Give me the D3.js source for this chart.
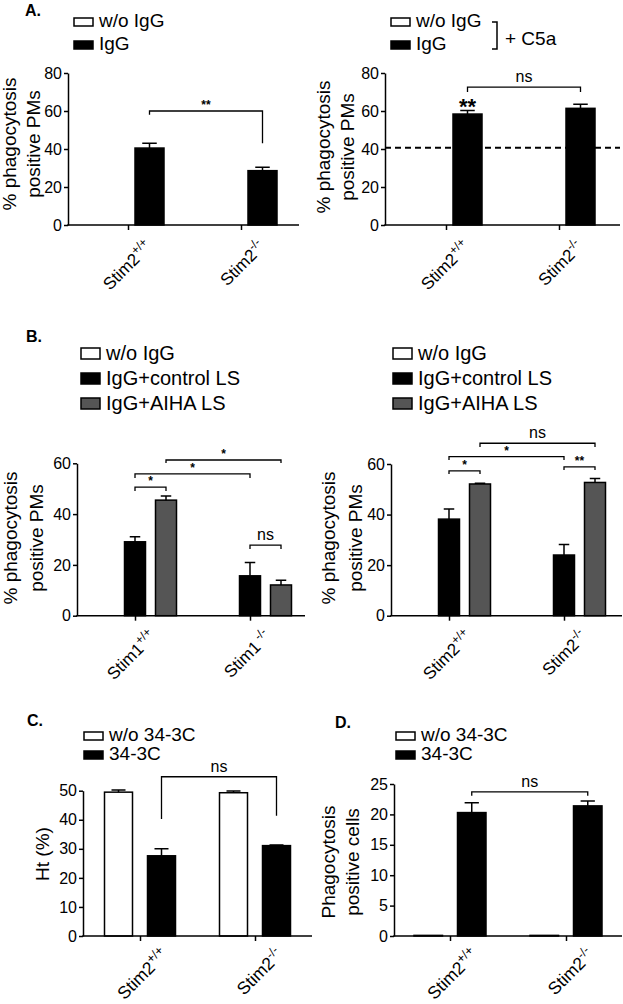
<!DOCTYPE html>
<html>
<head>
<meta charset="utf-8">
<script src="https://cdn.jsdelivr.net/npm/d3@7"></script>
<style>
  body { margin: 0; background: #fff; }
  svg { display: block; }
  text { font-family: "Liberation Sans", Arial, sans-serif; fill: #000; }
</style>
</head>
<body>
<svg id="fig" width="623" height="1004"></svg>
<script>
// categories (genotype + superscript)
const stim2Cats = ['Stim2+/+', 'Stim2-/-'];
const stim1Cats = ['Stim1+/+', 'Stim1 -/-'];

// A. phagocytosis, without / with C5a
const aSeries = ['w/o IgG', 'IgG'];
const aLeftWoIgG = [0, 0];
const aLeftIgG = [40.5, 28.6];
const aLeftIgGErr = [2.5, 1.8];
const aRightWoIgG = [0, 0];
const aRightIgG = [58.4, 61.4];
const aRightIgGErr = [1.8, 2.1];
const aRightReference = 40.6;
const aTicks = [0, 20, 40, 60, 80];

// B. liposome treatment
const bSeries = ['w/o IgG', 'IgG+control LS', 'IgG+AIHA LS'];
const bLeftWoIgG = [0, 0];
const bLeftControl = [29.1, 15.7];
const bLeftControlErr = [2.0, 5.2];
const bLeftAiha = [45.5, 12.1];
const bLeftAihaErr = [1.6, 1.9];
const bRightWoIgG = [0, 0];
const bRightControl = [38.2, 24.0];
const bRightControlErr = [4.0, 4.2];
const bRightAiha = [52.1, 52.7];
const bRightAihaErr = [0.3, 1.6];
const bTicks = [0, 20, 40, 60];

// C. hematocrit / D. phagocytosis with 34-3C
const cdSeries = ['w/o 34-3C', '34-3C'];
const cWo = [49.5, 49.3];
const cWoErr = [0.7, 0.6];
const cTreated = [27.6, 31.1];
const cTreatedErr = [2.4, 0.2];
const cTicks = [0, 10, 20, 30, 40, 50];
const dWo = [0.1, 0.1];
const dWoErr = [0, 0];
const dTreated = [20.3, 21.4];
const dTreatedErr = [1.6, 0.8];
const dTicks = [0, 5, 10, 15, 20, 25];

const fills = {
  'w/o IgG': '#fff', 'IgG': '#000',
  'IgG+control LS': '#000', 'IgG+AIHA LS': '#555',
  'w/o 34-3C': '#fff', '34-3C': '#000'
};

const svg = d3.select('#fig');

function drawPanel(p) {
  const g = svg.append('g');
  const y = d3.scaleLinear().domain([0, p.yMax]).range([p.y0, p.yTop]);
  const x = d3.scalePoint().domain(p.cats).range(p.centers);
  const names = p.series.map(s => s.name);
  const n = names.length;
  const pad = 1 - p.bw / p.step;
  const xs = d3.scaleBand().domain(names)
    .range([-n * p.step / 2, n * p.step / 2])
    .paddingInner(pad).paddingOuter(pad / 2);
  const cx = (ci, s) => x(p.cats[ci]) + xs(s) + xs.bandwidth() / 2;

  // reference line
  if (p.reference != null) {
    g.append('line')
      .attr('x1', p.x0).attr('x2', p.x1)
      .attr('y1', y(p.reference)).attr('y2', y(p.reference))
      .attr('stroke', '#000').attr('stroke-width', 2)
      .attr('stroke-dasharray', '6,4');
  }

  // bars + upper error bars
  p.series.forEach(s => {
    const sg = g.append('g');
    sg.selectAll('rect').data(s.values).join('rect')
      .attr('x', (d, i) => x(p.cats[i]) + xs(s.name))
      .attr('width', xs.bandwidth())
      .attr('y', d => y(d))
      .attr('height', d => y(0) - y(d))
      .attr('fill', fills[s.name])
      .attr('stroke', '#000').attr('stroke-width', 1.5);
    const errs = s.errs || s.values.map(() => 0);
    sg.selectAll('path.err').data(s.values).join('path')
      .attr('class', 'err')
      .attr('d', (d, i) => {
        if (!errs[i] || d === 0) return null;
        const c = cx(i, s.name), w = xs.bandwidth() / 4;
        return `M${c},${y(d)}V${y(d + errs[i])}M${c - w},${y(d + errs[i])}H${c + w}`;
      })
      .attr('fill', 'none').attr('stroke', '#000').attr('stroke-width', 1.5);
  });

  // y axis
  g.append('g')
    .attr('transform', `translate(${p.x0},0)`)
    .call(d3.axisLeft(y).tickValues(p.ticks).tickSize(4).tickPadding(2).tickSizeOuter(0))
    .call(a => a.selectAll('path,line').attr('stroke', '#000').attr('stroke-width', 1.5))
    .call(a => a.selectAll('text').attr('font-family', null).style('font-size', '16px'));

  // x axis
  g.append('line')
    .attr('x1', p.x0 - 0.75).attr('x2', p.x1)
    .attr('y1', y(0)).attr('y2', y(0))
    .attr('stroke', '#000').attr('stroke-width', 1.5);
  g.append('g')
    .attr('transform', `translate(0,${y(0)})`)
    .call(d3.axisBottom(x).tickSize(5).tickFormat(''))
    .call(a => a.select('.domain').remove())
    .call(a => a.selectAll('line').attr('stroke', '#000').attr('stroke-width', 1.5));

  // category labels
  const lab = g.append('g').selectAll('text').data(p.cats).join('text')
    .attr('transform', d => `translate(${x(d) + p.labDx},${y(0) + p.labDy}) rotate(-45)`)
    .attr('text-anchor', 'end')
    .style('font-size', p.labSize + 'px');
  lab.append('tspan').text(d => d.match(/^Stim\d/)[0]);
  lab.append('tspan').attr('dy', -7).style('font-size', (p.labSize - 5) + 'px')
    .text(d => d.replace(/^Stim\d/, ''));

  // y title
  const yt = g.append('text')
    .attr('transform', `translate(0,${p.titleY}) rotate(-90)`)
    .attr('text-anchor', 'middle')
    .style('font-size', '19px');
  p.title.forEach((t, i) => {
    yt.append('tspan').attr('x', 0).attr('y', p.titleX[i]).text(t);
  });

  // significance brackets
  (p.brackets || []).forEach(b => {
    const xa = cx(b.from[0], b.from[1]);
    const xb = cx(b.to[0], b.to[1]);
    g.append('path')
      .attr('d', `M${xa},${y(b.drop[0])}V${y(b.y)}H${xb}V${y(b.drop[1])}`)
      .attr('fill', 'none').attr('stroke', '#000').attr('stroke-width', 1.3);
    const star = b.label.startsWith('*');
    g.append('text')
      .attr('x', (xa + xb) / 2)
      .attr('y', y(b.y) - (star ? 2 : 5))
      .attr('text-anchor', 'middle')
      .style('font-size', star ? '12px' : '16px')
      .style('font-weight', star ? 'bold' : 'normal')
      .text(b.label);
  });

  // stars on top of a bar
  (p.marks || []).forEach(m => {
    const s = p.series.find(d => d.name === m.series);
    g.append('text')
      .attr('x', cx(m.cat, m.series))
      .attr('y', y(s.values[m.cat] + s.errs[m.cat]) + 3)
      .attr('text-anchor', 'middle')
      .style('font-size', '22px').style('font-weight', 'bold')
      .text(m.label);
  });
}

function drawLegend(x0, y0, entries, rowH, boxH, fontSize) {
  const g = svg.append('g').attr('transform', `translate(${x0},${y0})`);
  const row = g.selectAll('g').data(entries).join('g')
    .attr('transform', (d, i) => `translate(0,${i * rowH})`);
  row.append('rect')
    .attr('x', 0).attr('y', -boxH - 1)
    .attr('width', 19).attr('height', boxH)
    .attr('fill', d => fills[d]).attr('stroke', '#000').attr('stroke-width', 1.5);
  row.append('text')
    .attr('x', 25).attr('y', 0)
    .style('font-size', fontSize + 'px')
    .text(d => d);
  return g;
}

function panelLetter(x, y, t) {
  svg.append('text').attr('x', x).attr('y', y)
    .style('font-size', '16px').style('font-weight', 'bold').text(t);
}

// ---- A ----
panelLetter(25, 16, 'A.');
drawLegend(74, 27, aSeries, 23, 8, 19);
drawPanel({
  x0: 68, x1: 299, yTop: 73, y0: 225, yMax: 80, ticks: aTicks,
  cats: stim2Cats, centers: [128, 241], step: 43, bw: 29,
  series: [
    { name: 'w/o IgG', values: aLeftWoIgG },
    { name: 'IgG', values: aLeftIgG, errs: aLeftIgGErr }
  ],
  labDx: 25, labDy: 23, labSize: 17,
  title: ['% phagocytosis', 'positive PMs'], titleX: [16, 40], titleY: 144,
  brackets: [{ from: [0, 'IgG'], to: [1, 'IgG'], y: 60, drop: [58, 43], label: '**' }]
});

const aLeg = drawLegend(391, 27, aSeries, 23, 8, 19);
aLeg.append('path').attr('d', 'M101,-5H106V22H101')
  .attr('fill', 'none').attr('stroke', '#000').attr('stroke-width', 1.5);
aLeg.append('text').attr('x', 114).attr('y', 18).style('font-size', '19px').text('+ C5a');
drawPanel({
  x0: 385, x1: 620, yTop: 73, y0: 225, yMax: 80, ticks: aTicks,
  cats: stim2Cats, centers: [446, 559], step: 43, bw: 29,
  series: [
    { name: 'w/o IgG', values: aRightWoIgG },
    { name: 'IgG', values: aRightIgG, errs: aRightIgGErr }
  ],
  labDx: 25, labDy: 23, labSize: 17,
  reference: aRightReference,
  title: ['% phagocytosis', 'positive PMs'], titleX: [330, 354], titleY: 147,
  brackets: [{ from: [0, 'IgG'], to: [1, 'IgG'], y: 72.6, drop: [70, 70], label: 'ns' }],
  marks: [{ cat: 0, series: 'IgG', label: '**' }]
});

// ---- B ----
panelLetter(26, 342, 'B.');
drawLegend(81, 360, bSeries, 25, 11, 20);
drawPanel({
  x0: 77, x1: 305, yTop: 463.3, y0: 615.7, yMax: 60, ticks: bTicks,
  cats: stim1Cats, centers: [135, 250], step: 31, bw: 21,
  series: [
    { name: 'w/o IgG', values: bLeftWoIgG },
    { name: 'IgG+control LS', values: bLeftControl, errs: bLeftControlErr },
    { name: 'IgG+AIHA LS', values: bLeftAiha, errs: bLeftAihaErr }
  ],
  labDx: 22, labDy: 22, labSize: 17,
  title: ['% phagocytosis', 'positive PMs'], titleX: [17, 43], titleY: 538,
  brackets: [
    { from: [0, 'IgG+control LS'], to: [0, 'IgG+AIHA LS'], y: 50.6, drop: [49.1, 49.1], label: '*' },
    { from: [0, 'IgG+control LS'], to: [1, 'IgG+control LS'], y: 55.8, drop: [54.2, 54.2], label: '*' },
    { from: [0, 'IgG+AIHA LS'], to: [1, 'IgG+AIHA LS'], y: 61.3, drop: [60.1, 60.1], label: '*' },
    { from: [1, 'IgG+control LS'], to: [1, 'IgG+AIHA LS'], y: 27.8, drop: [26.3, 26.3], label: 'ns' }
  ]
});

drawLegend(393, 360, bSeries, 25, 11, 20);
drawPanel({
  x0: 391, x1: 622, yTop: 464, y0: 615.7, yMax: 60, ticks: bTicks,
  cats: stim2Cats, centers: [449, 564], step: 31, bw: 21,
  series: [
    { name: 'w/o IgG', values: bRightWoIgG },
    { name: 'IgG+control LS', values: bRightControl, errs: bRightControlErr },
    { name: 'IgG+AIHA LS', values: bRightAiha, errs: bRightAihaErr }
  ],
  labDx: 24, labDy: 22, labSize: 17,
  title: ['% phagocytosis', 'positive PMs'], titleX: [335, 362], titleY: 538,
  brackets: [
    { from: [0, 'IgG+control LS'], to: [0, 'IgG+AIHA LS'], y: 57.3, drop: [56, 56], label: '*' },
    { from: [0, 'IgG+control LS'], to: [1, 'IgG+control LS'], y: 62.9, drop: [61.6, 61.6], label: '*' },
    { from: [0, 'IgG+AIHA LS'], to: [1, 'IgG+AIHA LS'], y: 68.2, drop: [66.7, 66.7], label: 'ns' },
    { from: [1, 'IgG+control LS'], to: [1, 'IgG+AIHA LS'], y: 58.9, drop: [57.6, 57.6], label: '**' }
  ]
});

// ---- C ----
panelLetter(27, 726, 'C.');
drawLegend(84, 741, cdSeries, 19, 8, 19);
drawPanel({
  x0: 83, x1: 312, yTop: 790.7, y0: 936, yMax: 50, ticks: cTicks,
  cats: stim2Cats, centers: [140, 255], step: 43, bw: 28,
  series: [
    { name: 'w/o 34-3C', values: cWo, errs: cWoErr },
    { name: '34-3C', values: cTreated, errs: cTreatedErr }
  ],
  labDx: 29, labDy: 20, labSize: 17.5,
  title: ['Ht (%)'], titleX: [49], titleY: 854,
  brackets: [{ from: [0, '34-3C'], to: [1, '34-3C'], y: 54.8, drop: [40.3, 41.4], label: 'ns' }]
});

// ---- D ----
panelLetter(335, 728, 'D.');
drawLegend(396, 741, cdSeries, 19, 8, 19);
drawPanel({
  x0: 394, x1: 622, yTop: 784, y0: 936, yMax: 25, ticks: dTicks,
  cats: stim2Cats, centers: [450, 566], step: 43.5, bw: 28.5,
  series: [
    { name: 'w/o 34-3C', values: dWo, errs: dWoErr },
    { name: '34-3C', values: dTreated, errs: dTreatedErr }
  ],
  labDx: 29, labDy: 20, labSize: 17.5,
  title: ['Phagocytosis', 'positive cells'], titleX: [335, 359], titleY: 862,
  brackets: [{ from: [0, '34-3C'], to: [1, '34-3C'], y: 23.7, drop: [23.06, 23.06], label: 'ns' }]
});
</script>
</body>
</html>
